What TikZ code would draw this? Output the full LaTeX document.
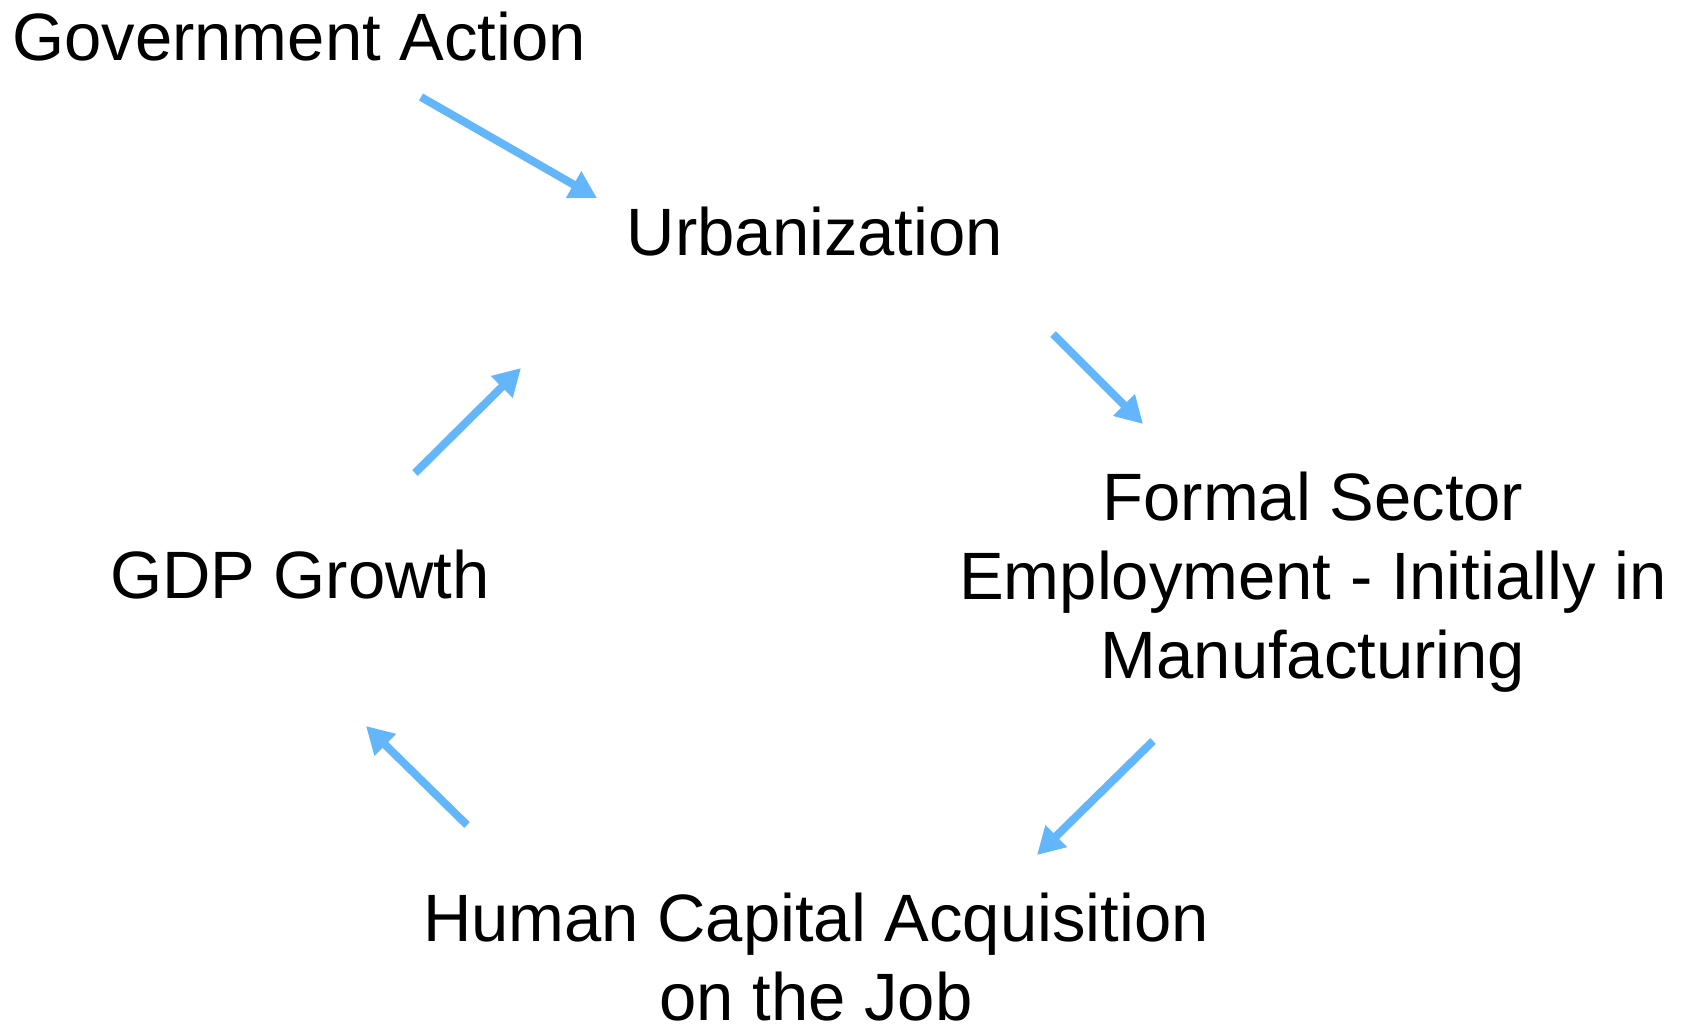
\documentclass[tikz,border=0pt]{standalone}
\usepackage{fontspec}
\setmainfont{Liberation Sans}
\usetikzlibrary{arrows.meta}
\definecolor{arrowblue}{RGB}{99,182,250}
\tikzset{
  x=1pt,y=-1pt,
  lbl/.style={inner sep=0pt,font=\fontsize{67}{79}\selectfont,text=black},
  flow/.style={draw=arrowblue,line width=8pt,-{Triangle[length=27pt,width=29pt]}}
}
\begin{document}
\begin{tikzpicture}
\useasboundingbox (0,0) rectangle (1684,1030);
\node[lbl,anchor=base] (gov) at (299,61) {Government Action};
\node[lbl,anchor=base] (urb) at (815,255) {Urbanization};
\node[lbl,align=center] (formal) at (1313,582) {Formal Sector\\Employment - Initially in\\Manufacturing};
\node[lbl,anchor=base] (gdp) at (300,598) {GDP Growth};
\node[lbl,align=center] (human) at (816,957) {Human Capital Acquisition\\on the Job};
\coordinate (g1) at (421,97);
\coordinate (u1) at (597,198);
\coordinate (u2) at (1053,334);
\coordinate (f1) at (1143,424);
\coordinate (f2) at (1153,741);
\coordinate (h1) at (1037,855);
\coordinate (h2) at (467,825);
\coordinate (d1) at (366,726);
\coordinate (d2) at (415,473);
\coordinate (u3) at (521,368);
\draw[flow] (g1) -- (u1);
\draw[flow] (u2) -- (f1);
\draw[flow] (f2) -- (h1);
\draw[flow] (h2) -- (d1);
\draw[flow] (d2) -- (u3);
\end{tikzpicture}
\end{document}
